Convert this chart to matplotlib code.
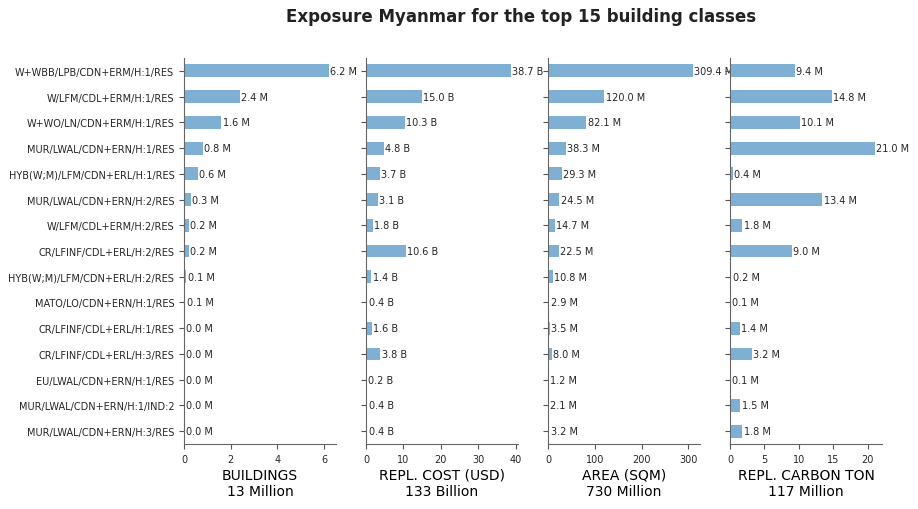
import matplotlib
matplotlib.use("Agg")
import matplotlib.pyplot as plt

classes = [
    "W+WBB/LPB/CDN+ERM/H:1/RES",
    "W/LFM/CDL+ERM/H:1/RES",
    "W+WO/LN/CDN+ERM/H:1/RES",
    "MUR/LWAL/CDN+ERN/H:1/RES",
    "HYB(W;M)/LFM/CDN+ERL/H:1/RES",
    "MUR/LWAL/CDN+ERN/H:2/RES",
    "W/LFM/CDL+ERM/H:2/RES",
    "CR/LFINF/CDL+ERL/H:2/RES",
    "HYB(W;M)/LFM/CDN+ERL/H:2/RES",
    "MATO/LO/CDN+ERN/H:1/RES",
    "CR/LFINF/CDL+ERL/H:1/RES",
    "CR/LFINF/CDL+ERL/H:3/RES",
    "EU/LWAL/CDN+ERN/H:1/RES",
    "MUR/LWAL/CDN+ERN/H:1/IND:2",
    "MUR/LWAL/CDN+ERN/H:3/RES",
]

buildings = [6.2, 2.4, 1.6, 0.8, 0.6, 0.3, 0.2, 0.2, 0.1, 0.05, 0.02, 0.02, 0.02, 0.01, 0.01]  # millions
repl_cost = [38.7, 15.0, 10.3, 4.8, 3.7, 3.1, 1.8, 10.6, 1.4, 0.4, 1.6, 3.8, 0.2, 0.4, 0.4]  # billions
area = [309.4, 120.0, 82.1, 38.3, 29.3, 24.5, 14.7, 22.5, 10.8, 2.9, 3.5, 8.0, 1.2, 2.1, 3.2]  # millions
carbon = [9.4, 14.8, 10.1, 21.0, 0.4, 13.4, 1.8, 9.0, 0.2, 0.1, 1.4, 3.2, 0.1, 1.5, 1.8]  # millions

panels = [
    (buildings, "M", "BUILDINGS\n13 Million"),
    (repl_cost, "B", "REPL. COST (USD)\n133 Billion"),
    (area, "M", "AREA (SQM)\n730 Million"),
    (carbon, "M", "REPL. CARBON TON\n117 Million"),
]

txt = "#262626"
fig = plt.figure(figsize=(9.18, 5.1), dpi=100)
lefts = [184, 366, 548, 730]
W, H = 918, 510
for i, (vals, unit, xlabel) in enumerate(panels):
    ax = fig.add_axes([lefts[i] / W, 1 - 445 / H, 152 / W, (445 - 59) / H])
    ypos = list(range(len(classes)))
    bars = ax.barh(ypos, vals, height=0.5, color="#7fafd3")
    ax.set_ylim(len(classes) - 0.5, -0.5)
    ax.set_yticks(ypos)
    if i == 0:
        ax.set_yticklabels(classes, fontsize=7, color=txt)
    else:
        ax.set_yticklabels([])
    labels = [f"{v:.1f} {unit}" for v in vals]
    ax.bar_label(bars, labels=labels, padding=1, fontsize=7, color=txt, clip_on=False)
    ax.tick_params(axis="both", labelsize=7, colors="#555555", labelcolor=txt, length=3.5)
    ax.set_xlabel(xlabel, fontsize=10, color="black", labelpad=3)
    for s in ["top", "right"]:
        ax.spines[s].set_visible(False)
    for s in ["left", "bottom"]:
        ax.spines[s].set_color("#666666")
    ax.set_xticks(ax.get_xticks())
    ax.set_xlim(0, max(vals) * 1.05)

fig.text(0.568, 0.967, "Exposure Myanmar for the top 15 building classes",
         ha="center", va="center", fontsize=12, fontweight="bold", color="#222222")
fig.savefig("out.png", dpi=100)
